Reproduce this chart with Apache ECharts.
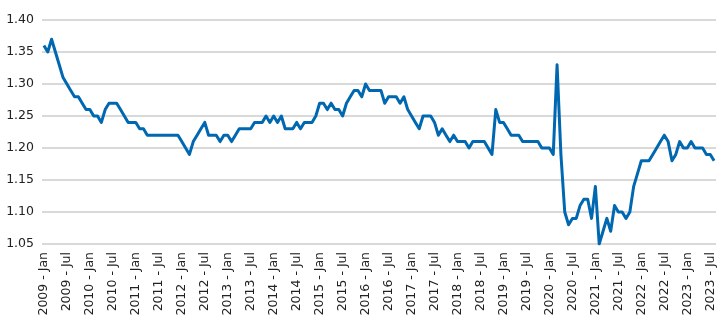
<!DOCTYPE html>
<html>
<head>
<meta charset="utf-8">
<script src="https://cdn.jsdelivr.net/npm/echarts@6/dist/echarts.min.js"></script>
<style>
html,body{margin:0;padding:0;background:#fff;}
#chart{width:727px;height:331px;}
</style>
</head>
<body>
<div id="chart"></div>
<script>
// Categories: monthly, 2009 - Jan to 2023 - Aug
var years = [2009,2010,2011,2012,2013,2014,2015,2016,2017,2018,2019,2020,2021,2022,2023];
var monthNames = ['Jan','Feb','Mar','Apr','May','Jun','Jul','Aug','Sep','Oct','Nov','Dec'];
var lastYearMonths = 8;
var categories = [];
years.forEach(function(y, yi){
  var n = (yi === years.length - 1) ? lastYearMonths : 12;
  for (var m = 0; m < n; m++) categories.push(y + ' - ' + monthNames[m]);
});

// Series values
var values2009 = [1.36,1.35,1.37,1.35,1.33,1.31,1.30,1.29,1.28,1.28,1.27,1.26];
var values2010 = [1.26,1.25,1.25,1.24,1.26,1.27,1.27,1.27,1.26,1.25,1.24,1.24];
var values2011 = [1.24,1.23,1.23,1.22,1.22,1.22,1.22,1.22,1.22,1.22,1.22,1.22];
var values2012 = [1.21,1.20,1.19,1.21,1.22,1.23,1.24,1.22,1.22,1.22,1.21,1.22];
var values2013 = [1.22,1.21,1.22,1.23,1.23,1.23,1.23,1.24,1.24,1.24,1.25,1.24];
var values2014 = [1.25,1.24,1.25,1.23,1.23,1.23,1.24,1.23,1.24,1.24,1.24,1.25];
var values2015 = [1.27,1.27,1.26,1.27,1.26,1.26,1.25,1.27,1.28,1.29,1.29,1.28];
var values2016 = [1.30,1.29,1.29,1.29,1.29,1.27,1.28,1.28,1.28,1.27,1.28,1.26];
var values2017 = [1.25,1.24,1.23,1.25,1.25,1.25,1.24,1.22,1.23,1.22,1.21,1.22];
var values2018 = [1.21,1.21,1.21,1.20,1.21,1.21,1.21,1.21,1.20,1.19,1.26,1.24];
var values2019 = [1.24,1.23,1.22,1.22,1.22,1.21,1.21,1.21,1.21,1.21,1.20,1.20];
var values2020 = [1.20,1.19,1.33,1.19,1.10,1.08,1.09,1.09,1.11,1.12,1.12,1.09];
var values2021 = [1.14,1.05,1.07,1.09,1.07,1.11,1.10,1.10,1.09,1.10,1.14,1.16];
var values2022 = [1.18,1.18,1.18,1.19,1.20,1.21,1.22,1.21,1.18,1.19,1.21,1.20];
var values2023 = [1.20,1.21,1.20,1.20,1.20,1.19,1.19,1.18];

var seriesValues = [].concat(values2009, values2010, values2011, values2012, values2013,
  values2014, values2015, values2016, values2017, values2018, values2019, values2020,
  values2021, values2022, values2023);

// Y axis ticks
var yMin = 1.05, yMax = 1.40, yStep = 0.05;

var chart = echarts.init(document.getElementById('chart'), null, {renderer: 'canvas'});
chart.setOption({
  animation: false,
  backgroundColor: '#ffffff',
  grid: {left: 42, right: 11, top: 20, bottom: 87, containLabel: false},
  xAxis: {
    type: 'category',
    data: categories,
    boundaryGap: true,
    axisLine: {show: false},
    axisTick: {show: false},
    axisLabel: {
      interval: 5,
      rotate: 90,
      margin: 8,
      fontFamily: 'DejaVu Sans',
      fontSize: 12.5,
      color: '#222222'
    },
    splitLine: {show: false}
  },
  yAxis: {
    type: 'value',
    min: yMin,
    max: yMax,
    interval: yStep,
    axisLine: {show: false},
    axisTick: {show: false},
    axisLabel: {
      margin: 8,
      fontFamily: 'DejaVu Sans',
      fontSize: 12.5,
      color: '#222222',
      formatter: function(v){ return v.toFixed(2); }
    },
    splitLine: {show: true, lineStyle: {color: '#d9d9d9', width: 2}}
  },
  series: [{
    type: 'line',
    data: seriesValues,
    showSymbol: false,
    symbol: 'none',
    lineStyle: {color: '#0067b1', width: 3, join: 'round'},
    itemStyle: {color: '#0067b1'}
  }]
});
</script>
</body>
</html>
